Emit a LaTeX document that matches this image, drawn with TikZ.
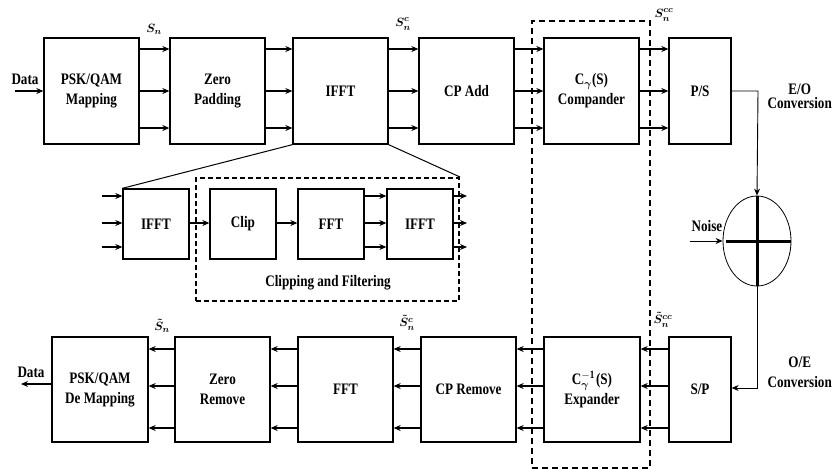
\documentclass[tikz,border=0pt]{standalone}
\usepackage{amsmath}
\usepackage{fontspec}
\setmainfont[FakeStretch=0.82]{Liberation Serif}
\usetikzlibrary{arrows.meta,calc,shapes.geometric}
\begin{document}
\begin{tikzpicture}[x=1pt,y=-1pt,
  font=\bfseries\fontsize{16}{20}\selectfont,
  blk/.style={draw, line width=1.3pt, inner sep=0pt, align=center},
  topblk/.style={blk, minimum height=106},
  botblk/.style={blk, minimum height=105},
  midblk/.style={blk, minimum height=70, minimum width=66},
  arr/.style={line width=1.2pt, -{Stealth[length=7pt,width=6pt]}},
  thinarr/.style={line width=0.9pt, -{Stealth[length=7pt,width=6pt]}},
  lbl/.style={inner sep=0pt, align=center},
  sig/.style={inner sep=0pt, font=\fontsize{13}{15}\selectfont\mathversion{bold}}]
\useasboundingbox (0,0) rectangle (832,472);

% top row
\node[topblk, minimum width=95] (map)  at (91.5,91)  {PSK/QAM\\Mapping};
\node[topblk, minimum width=95] (zp)   at (217.5,91) {Zero\\Padding};
\node[topblk, minimum width=95] (ifft) at (340.5,91) {IFFT};
\node[topblk, minimum width=95] (cp)   at (466.5,91) {CP Add};
\node[topblk, minimum width=95] (comp) at (591.5,91) {C$_{\boldsymbol{\gamma}}$(S)\\Compander};
\node[topblk, minimum width=62] (ps)   at (700,91)   {P/S};

% bottom row
\node[botblk, minimum width=96] (demap) at (100,389.5)  {PSK/QAM\\De Mapping};
\node[botblk, minimum width=95] (zr)    at (222.5,389.5) {Zero\\Remove};
\node[botblk, minimum width=95] (fft)   at (345.5,389.5) {FFT};
\node[botblk, minimum width=95] (cpr)   at (468.5,389.5) {CP Remove};
\node[botblk, minimum width=96] (exp)   at (592,389.5)   {C$^{\mathbf{-1}}_{\boldsymbol{\gamma}}$(S)\\Expander};
\node[botblk, minimum width=62] (sp)    at (700,389.5)   {S/P};

% middle row
\node[midblk] (i1)   at (156,224) {IFFT};
\node[midblk] (clip) at (243,224) {Clip};
\node[midblk] (f2)   at (331,224) {FFT};
\node[midblk] (i2)   at (420,224) {IFFT};

% dashed boxes
\node[draw, line width=2pt, dash pattern=on 5pt off 3pt, minimum width=263, minimum height=123, inner sep=0pt] (cf) at (327.5,239.5) {};
\node[lbl] (cflbl) at (328,283) {Clipping and Filtering};
\node[draw, line width=1.2pt, dash pattern=on 6pt off 4pt, minimum width=118, minimum height=447, inner sep=0pt] (dbox) at (591,244.5) {};

% zoom lines
\draw[line width=1pt] (ifft.south west) -- (i1.north west);
\draw[line width=1pt] (ifft.south east) -- (cf.north east);

% row coordinates
\coordinate (t1) at (0,49);
\coordinate (t2) at (0,91);
\coordinate (t3) at (0,128);
\coordinate (b1) at (0,349);
\coordinate (b2) at (0,386);
\coordinate (b3) at (0,428);
\coordinate (m1) at (0,196);
\coordinate (m2) at (0,223);
\coordinate (m3) at (0,247);

\foreach \a/\b in {map/zp, zp/ifft, ifft/cp, cp/comp, comp/ps}
  \foreach \y in {t1,t2,t3}
    \draw[arr] (\a.east |- \y) -- (\b.west |- \y);
\foreach \a/\b in {sp/exp, exp/cpr, cpr/fft, fft/zr, zr/demap}
  \foreach \y in {b1,b2,b3}
    \draw[arr] (\a.west |- \y) -- (\b.east |- \y);

% middle arrows
\coordinate (ml) at (102,0);
\coordinate (mr) at (467,0);
\foreach \y in {m1,m2,m3} {
  \draw[arr] (ml |- \y) -- (i1.west |- \y);
  \draw[arr] (f2.east |- \y) -- (i2.west |- \y);
  \draw[arr] (i2.east |- \y) -- (mr |- \y);
}
\draw[arr] (i1.east |- m2) -- (clip.west |- m2);
\draw[arr] (clip.east |- m2) -- (f2.west |- m2);

% data in/out
\coordinate (din) at (15,91);
\node[lbl] (dinl) at (25,79) {Data};
\draw[arr] (din) -- (map.west);
\coordinate (dout) at (21,384);
\node[lbl] (doutl) at (31,372) {Data};
\draw[arr] (demap.west |- dout) -- (dout);

% signal labels
\node[sig] (s1) at (154,29) {$S_n$};
\node[sig] (s2) at (403,24) {$S_n^{c}$};
\node[sig] (s3) at (664,15) {$S_n^{cc}$};
\node[sig] (s4) at (162,326) {$\tilde{S}_n$};
\node[sig] (s5) at (407,323) {$\tilde{S}_n^{c}$};
\node[sig] (s6) at (663,320) {$\tilde{S}_n^{cc}$};

% channel
\node[draw, ellipse, line width=0.8pt, minimum width=68, minimum height=90, inner sep=0pt] (sum) at (757,241) {};
\draw[line width=3pt] (sum.north) -- (sum.south);
\draw[line width=3pt] ([xshift=3pt]sum.west) -- (sum.east);
\coordinate (eo) at (758,91);
\draw[thinarr] (ps.east) -- (eo) -- (sum.north);
\coordinate (oe) at (757,388);
\draw[thinarr] (sum.south) -- (oe) -- (sp.east |- oe);
\coordinate (nz) at (690,241);
\draw[thinarr] (nz) -- (sum.west);
\node[lbl] (noise) at (707,226) {Noise};
\node[lbl, anchor=east, font=\bfseries\fontsize{16}{14}\selectfont] (eol) at (832,96) {E/O\\Conversion};
\node[lbl, anchor=east, font=\bfseries\fontsize{16}{20}\selectfont] (oel) at (832,372) {O/E\\Conversion};
\end{tikzpicture}
\end{document}
